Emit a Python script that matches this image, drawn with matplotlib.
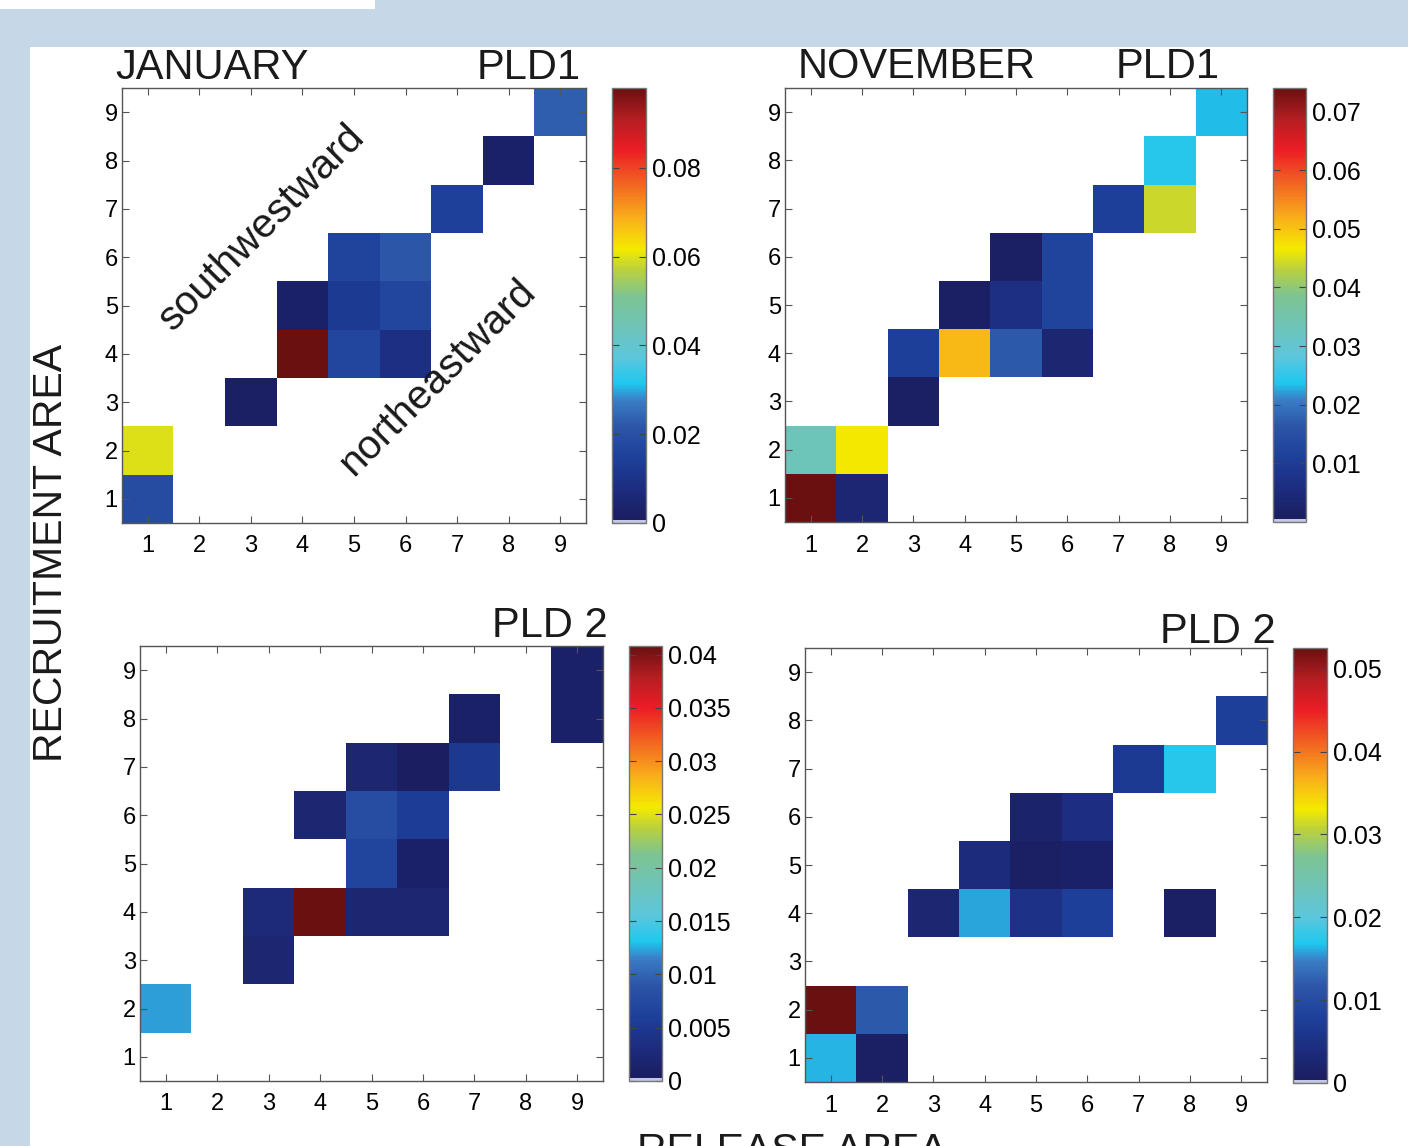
#!/usr/bin/env python3
"""
Connectivity matrices (release area vs recruitment area), January / November, PLD1 / PLD2.

Output: out.png
"""

import numpy as np
import matplotlib
matplotlib.use("Agg")
import matplotlib.pyplot as plt
from matplotlib.colors import LinearSegmentedColormap, ListedColormap
from matplotlib.patches import Rectangle

plt.rcParams["font.family"] = ["Liberation Sans", "DejaVu Sans"]

# areas 1..9 (columns = release area, rows = recruitment area, row 0 = area 1)
areas = [1, 2, 3, 4, 5, 6, 7, 8, 9]

jan_pld1 = [
    [0.019, 0, 0, 0, 0, 0, 0, 0, 0],
    [0.060, 0, 0, 0, 0, 0, 0, 0, 0],
    [0, 0, 0.002, 0, 0, 0, 0, 0, 0],
    [0, 0, 0, 0.098, 0.017, 0.009, 0, 0, 0],
    [0, 0, 0, 0.003, 0.013, 0.017, 0, 0, 0],
    [0, 0, 0, 0, 0.016, 0.022, 0, 0, 0],
    [0, 0, 0, 0, 0, 0, 0.015, 0, 0],
    [0, 0, 0, 0, 0, 0, 0, 0.003, 0],
    [0, 0, 0, 0, 0, 0, 0, 0, 0.023],
]

nov_pld1 = [
    [0.074, 0.004, 0, 0, 0, 0, 0, 0, 0],
    [0.033, 0.0466, 0, 0, 0, 0, 0, 0, 0],
    [0, 0, 0.0015, 0, 0, 0, 0, 0, 0],
    [0, 0, 0.011, 0.051, 0.017, 0.0037, 0, 0, 0],
    [0, 0, 0, 0.0015, 0.0067, 0.012, 0, 0, 0],
    [0, 0, 0, 0, 0.0015, 0.012, 0, 0, 0],
    [0, 0, 0, 0, 0, 0, 0.011, 0.044, 0],
    [0, 0, 0, 0, 0, 0, 0, 0.0245, 0],
    [0, 0, 0, 0, 0, 0, 0, 0, 0.0233],
]

jan_pld2 = [
    [0, 0, 0, 0, 0, 0, 0, 0, 0],
    [0.0122, 0, 0, 0, 0, 0, 0, 0, 0],
    [0, 0, 0.002, 0, 0, 0, 0, 0, 0],
    [0, 0, 0.0028, 0.0408, 0.002, 0.002, 0, 0, 0],
    [0, 0, 0, 0, 0.007, 0.0012, 0, 0, 0],
    [0, 0, 0, 0.002, 0.008, 0.0057, 0, 0, 0],
    [0, 0, 0, 0, 0.002, 0.0005, 0.005, 0, 0],
    [0, 0, 0, 0, 0, 0, 0.0012, 0, 0.0012],
    [0, 0, 0, 0, 0, 0, 0, 0, 0.0012],
]

nov_pld2 = [
    [0.0163, 0.001, 0, 0, 0, 0, 0, 0, 0],
    [0.0525, 0.012, 0, 0, 0, 0, 0, 0, 0],
    [0, 0, 0, 0, 0, 0, 0, 0, 0],
    [0, 0, 0.0026, 0.0158, 0.0053, 0.0079, 0, 0.001, 0],
    [0, 0, 0, 0.0037, 0.001, 0.0016, 0, 0, 0],
    [0, 0, 0, 0, 0.002, 0.0047, 0, 0, 0],
    [0, 0, 0, 0, 0, 0, 0.0068, 0.0173, 0],
    [0, 0, 0, 0, 0, 0, 0, 0, 0.0079],
    [0, 0, 0, 0, 0, 0, 0, 0, 0],
]

jan_pld1_ticks = [0, 0.02, 0.04, 0.06, 0.08]
nov_pld1_ticks = [0.01, 0.02, 0.03, 0.04, 0.05, 0.06, 0.07]
jan_pld2_ticks = [0, 0.005, 0.01, 0.015, 0.02, 0.025, 0.03, 0.035, 0.04]
nov_pld2_ticks = [0, 0.01, 0.02, 0.03, 0.04, 0.05]

W, H = 1408, 1146


def muted_jet():
    """Jet-like colormap as it looks after print conversion, first entries pale."""
    anchors = [
        (0.00, "#1b1c5c"), (0.08, "#1d2d80"), (0.15, "#1e409a"),
        (0.22, "#2c55a8"), (0.28, "#3a7cc4"), (0.32, "#1ec8f0"),
        (0.38, "#5cc6dc"), (0.45, "#6ec4b8"), (0.52, "#7cc494"),
        (0.58, "#b8d040"), (0.63, "#f5ea00"), (0.70, "#f9b01a"),
        (0.78, "#f26522"), (0.86, "#ec1c24"), (0.93, "#b41e22"),
        (1.00, "#6a1010"),
    ]
    base = LinearSegmentedColormap.from_list("mjet", anchors, N=256)
    colors = base(np.linspace(0, 1, 256))
    colors[:2] = matplotlib.colors.to_rgba("#c4c8e4")
    cmap = ListedColormap(colors)
    cmap.set_bad("white")
    return cmap


def fig_rect(x0, y0, x1, y1):
    """Pixel box (top-left origin) -> figure fraction rect."""
    return [x0 / W, 1 - y1 / H, (x1 - x0) / W, (y1 - y0) / H]


def draw_panel(fig, matrix, ax_box, cb_box, ticks, cmap):
    data = np.array(matrix, dtype=float)
    masked = np.ma.masked_equal(data, 0)

    ax = fig.add_axes(fig_rect(*ax_box))
    im = ax.imshow(masked, origin="lower", cmap=cmap, vmin=0, vmax=data.max(),
                   extent=(0.5, 9.5, 0.5, 9.5), aspect="auto",
                   interpolation="nearest")
    ax.set_xlim(0.5, 9.5)
    ax.set_ylim(0.5, 9.5)
    ax.set_xticks(areas)
    ax.set_yticks(areas)
    ax.tick_params(direction="in", top=True, right=True, length=5, width=0.8,
                   color="#555555", labelsize=17)
    ax.tick_params(axis="x", pad=9)
    ax.tick_params(axis="y", pad=3)
    for s in ax.spines.values():
        s.set_color("#555555")
        s.set_linewidth(1.0)

    cax = fig.add_axes(fig_rect(*cb_box))
    cb = fig.colorbar(im, cax=cax, ticks=ticks)
    cb.ax.set_yticklabels([f"{t:g}" for t in ticks])
    cb.ax.tick_params(direction="in", left=True, right=True, length=5,
                      width=0.8, color="#444444", labelsize=18, pad=4)
    cb.outline.set_edgecolor("#777777")
    cb.outline.set_linewidth(1.0)
    return ax


def main():
    cmap = muted_jet()
    fig = plt.figure(figsize=(W / 100, H / 100), dpi=100, facecolor="#c6d7e8")

    # white page area
    fig.add_artist(Rectangle((30 / W, 0), 1, 1 - 47 / H, transform=fig.transFigure,
                             facecolor="white", edgecolor="none", zorder=-5))
    fig.add_artist(Rectangle((0, 1 - 9 / H), 375 / W, 9 / H, transform=fig.transFigure,
                             facecolor="white", edgecolor="none", zorder=-5))

    ax1 = draw_panel(fig, jan_pld1, (122, 88, 586, 523), (612, 88, 646, 523),
                     jan_pld1_ticks, cmap)
    draw_panel(fig, nov_pld1, (785, 88, 1247, 522), (1273, 88, 1306, 522),
               nov_pld1_ticks, cmap)
    draw_panel(fig, jan_pld2, (140, 646, 603, 1081), (629, 646, 662, 1081),
               jan_pld2_ticks, cmap)
    draw_panel(fig, nov_pld2, (805, 648, 1267, 1082), (1293, 648, 1327, 1083),
               nov_pld2_ticks, cmap)

    # direction labels on first panel
    ax1.text(3.21, 6.61, "southwestward", rotation=45, rotation_mode="anchor",
             ha="center", va="center", fontsize=29.5, color="#1a1a1a")
    ax1.text(6.61, 3.52, "northeastward", rotation=45, rotation_mode="anchor",
             ha="center", va="center", fontsize=29.5, color="#1a1a1a")

    # panel titles
    title_kw = dict(fontsize=30, color="#1a1a1a", ha="left", va="baseline")
    fig.text(115 / W, 1 - 79 / H, "JANUARY", **title_kw)
    fig.text(477 / W, 1 - 79 / H, "PLD1", **title_kw)
    fig.text(798 / W, 1 - 78 / H, "NOVEMBER", **title_kw)
    fig.text(1116 / W, 1 - 78 / H, "PLD1", **title_kw)
    fig.text(492 / W, 1 - 637 / H, "PLD 2", **title_kw)
    fig.text(1160 / W, 1 - 643 / H, "PLD 2", **title_kw)

    # axis labels
    fig.text(51 / W, 1 - 553 / H, "RECRUITMENT AREA", rotation=90,
             ha="center", va="center", fontsize=29.5, color="#1a1a1a")
    fig.text(792 / W, 1 - 1132 / H, "RELEASE AREA", ha="center", va="top",
             fontsize=29.5, color="#1a1a1a")

    fig.savefig("out.png", dpi=100, facecolor=fig.get_facecolor())
    plt.close(fig)
    print("Saved: out.png")


if __name__ == "__main__":
    main()
